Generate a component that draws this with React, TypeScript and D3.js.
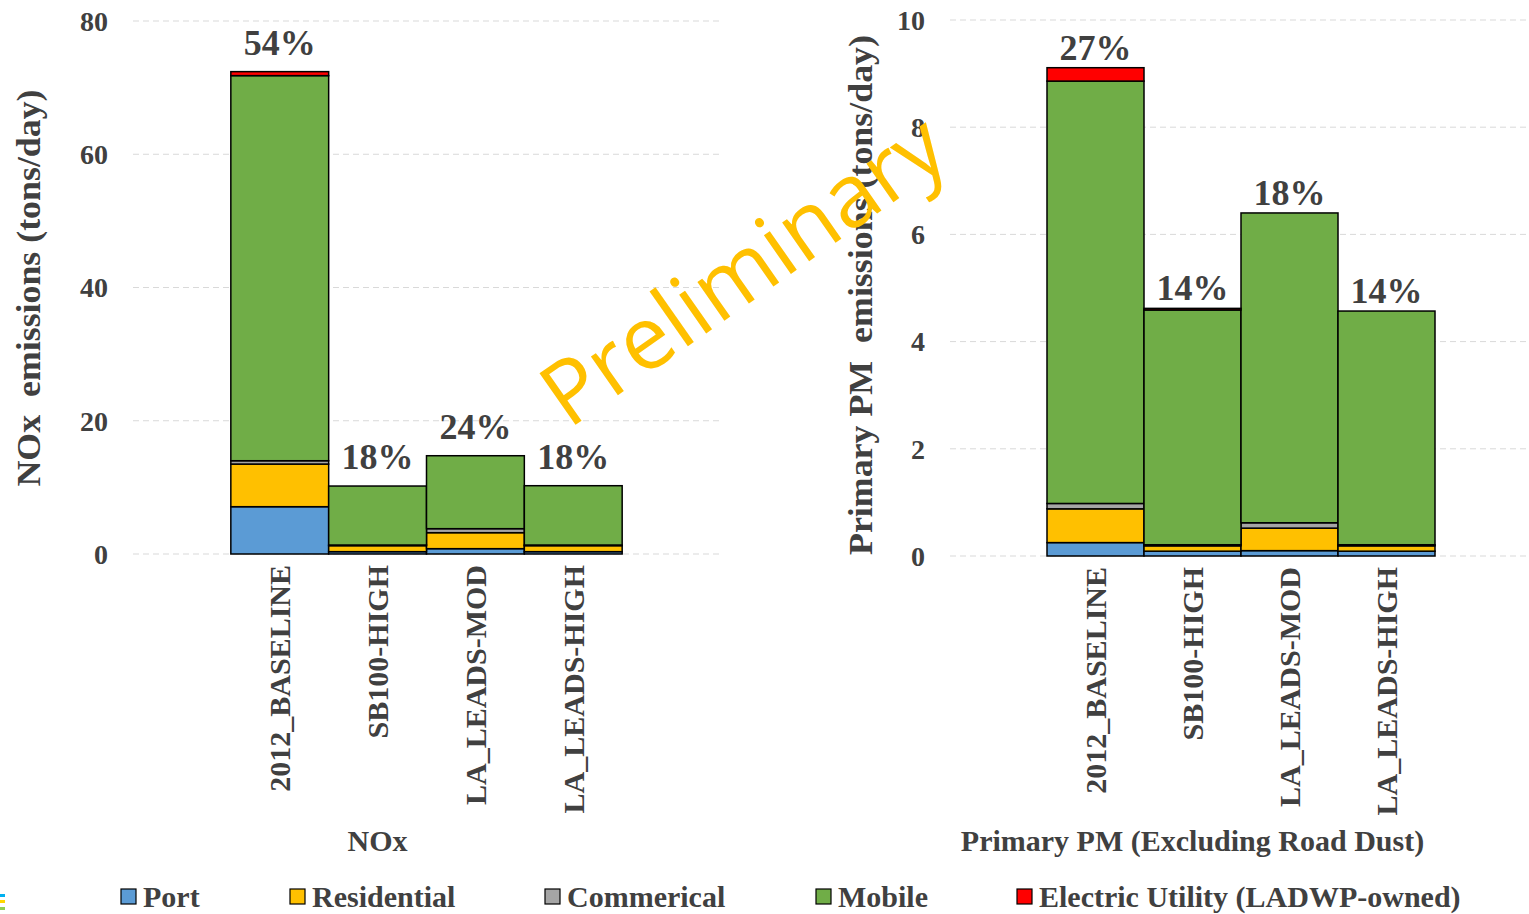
import React from 'react'
import * as d3 from 'd3'

const categories = ['2012_BASELINE', 'SB100-HIGH', 'LA_LEADS-MOD', 'LA_LEADS-HIGH']
const seriesNames = ['Port', 'Residential', 'Commerical', 'Mobile', 'Electric Utility (LADWP-owned)']
const seriesColors = ['#5B9BD5', '#FFC000', '#A5A5A5', '#70AD47', '#FF0000']

// NOx (tons/day)
const noxPort = [7.1, 0.35, 0.8, 0.35]
const noxResidential = [6.4, 0.9, 2.4, 0.9]
const noxCommercial = [0.5, 0.1, 0.6, 0.1]
const noxMobile = [57.8, 8.85, 10.95, 8.9]
const noxElectric = [0.6, 0, 0, 0]
const noxPct = ['54%', '18%', '24%', '18%']
const noxTicks = [0, 20, 40, 60, 80]

// Primary PM (tons/day)
const pmPort = [0.25, 0.09, 0.1, 0.09]
const pmResidential = [0.63, 0.1, 0.42, 0.1]
const pmCommercial = [0.1, 0.02, 0.1, 0.02]
const pmMobile = [7.88, 4.38, 5.78, 4.36]
const pmElectric = [0.25, 0.03, 0, 0]
const pmPct = ['27%', '14%', '18%', '14%']
const pmTicks = [0, 2, 4, 6, 8, 10]

const FONT = '"Liberation Serif", "Times New Roman", serif'
const TEXT = '#404040'

interface PanelProps {
  series: number[][]
  pct: string[]
  ticks: number[]
  x0: number
  x1: number
  yTop: number
  yBottom: number
  labelRight: number
  titleX: number
  titleY: number
  titleLen: number
  title: string
  xTitle: string
  pctGap: number
}

const Panel: React.FC<PanelProps> = ({
  series, pct, ticks, x0, x1, yTop, yBottom, labelRight, titleX, titleY, titleLen, title, xTitle, pctGap,
}) => {
  const x = d3.scaleBand<string>().domain(categories).range([x0, x1]).paddingInner(0).paddingOuter(1)
  const y = d3.scaleLinear().domain([0, d3.max(ticks)!]).range([yBottom, yTop])

  const rows = categories.map((c, i) => {
    const r: Record<string, number | string> = { cat: c }
    seriesNames.forEach((s, k) => (r[s] = series[k][i]))
    return r
  })
  const stacked = d3.stack<Record<string, number | string>>().keys(seriesNames)(rows as any)
  const totals = categories.map((_, i) => d3.sum(series, (s) => s[i]))

  return (
    <g>
      {ticks.map((t) => (
        <g key={t}>
          <line x1={x0} x2={x1} y1={y(t)} y2={y(t)} stroke="#D9D9D9" strokeWidth={1} strokeDasharray="6,4" />
          <text x={labelRight} y={y(t)} dy="0.35em" textAnchor="end" fontSize={28} fontWeight="bold" fill={TEXT}>
            {t}
          </text>
        </g>
      ))}
      {stacked.map((layer, k) => (
        <g key={layer.key} fill={seriesColors[k]}>
          {layer.map((d, i) =>
            d[1] - d[0] > 0 ? (
              <rect
                key={i}
                x={x(categories[i])!}
                y={y(d[1])}
                width={x.bandwidth()}
                height={y(d[0]) - y(d[1])}
                stroke="#000"
                strokeWidth={1.5}
              />
            ) : null,
          )}
        </g>
      ))}
      {categories.map((c, i) => (
        <text
          key={c}
          x={x(c)! + x.bandwidth() / 2}
          y={y(totals[i]) - pctGap}
          textAnchor="middle"
          fontSize={36}
          fontWeight="bold"
          fill={TEXT}
        >
          {pct[i]}
        </text>
      ))}
      {categories.map((c) => (
        <text
          key={c}
          transform={`translate(${x(c)! + x.bandwidth() / 2},${yBottom + 11}) rotate(-90)`}
          dy="0.35em"
          textAnchor="end"
          fontSize={30}
          fontWeight="bold"
          fill={TEXT}
        >
          {c}
        </text>
      ))}
      <text
        transform={`translate(${titleX},${titleY}) rotate(-90)`}
        dy="0.35em"
        textAnchor="middle"
        fontSize={33}
        fontWeight="bold"
        fill={TEXT}
        textLength={titleLen}
        lengthAdjust="spacingAndGlyphs"
        style={{ whiteSpace: 'pre' }}
      >
        {title}
      </text>
      <text x={x0 + x.step() * 2.5} y={851} textAnchor="middle" fontSize={30} fontWeight="bold" fill={TEXT}>
        {xTitle}
      </text>
    </g>
  )
}

const legendX = [121, 290, 545, 816, 1017]

export default function App() {
  return (
    <div style={{ position: 'absolute', left: 0, top: 0 }}>
      <svg width={1529} height={914} style={{ display: 'block', background: '#fff' }} fontFamily={FONT}>
        <Panel
          series={[noxPort, noxResidential, noxCommercial, noxMobile, noxElectric]}
          pct={noxPct}
          ticks={noxTicks}
          x0={133}
          x1={720}
          yTop={21}
          yBottom={554}
          labelRight={108}
          titleX={28}
          titleY={288}
          titleLen={397}
          title="NOx  emissions (tons/day)"
          xTitle="NOx"
          pctGap={17}
        />
        <Panel
          series={[pmPort, pmResidential, pmCommercial, pmMobile, pmElectric]}
          pct={pmPct}
          ticks={pmTicks}
          x0={950}
          x1={1532}
          yTop={20}
          yBottom={556}
          labelRight={925}
          titleX={860}
          titleY={295}
          titleLen={520}
          title="Primary PM  emissions (tons/day)"
          xTitle="Primary PM (Excluding Road Dust)"
          pctGap={8}
        />
        <g>
          {seriesNames.map((s, k) => (
            <g key={s}>
              <rect x={legendX[k]} y={889} width={15} height={15} fill={seriesColors[k]} stroke="#000" strokeWidth={1.2} />
              <text x={legendX[k] + 22} y={907} fontSize={30} fontWeight="bold" fill={TEXT}>
                {s}
              </text>
            </g>
          ))}
        </g>
        <rect x={0} y={894} width={5} height={3} fill="#00B0F0" />
        <rect x={0} y={900} width={5} height={3} fill="#FFD700" />
        <rect x={0} y={907} width={5} height={3} fill="#92D050" />
        <text
          transform="translate(743,270) rotate(-35)"
          textAnchor="middle"
          dy="0.35em"
          fontFamily='"Open Sans", "Noto Sans", sans-serif'
          fontSize={88}
          fill="#FFC000"
        >
          Preliminary
        </text>
      </svg>
    </div>
  )
}
